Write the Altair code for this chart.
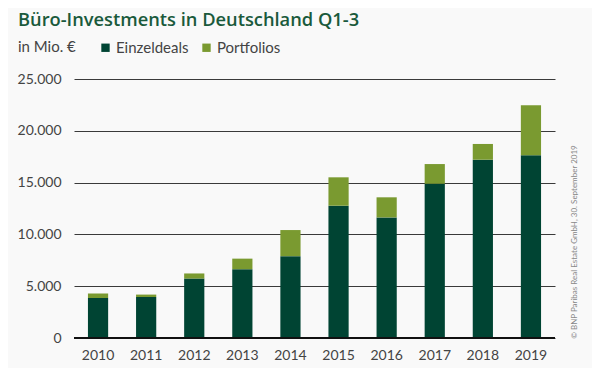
import altair as alt
import pandas as pd

years = ["2010", "2011", "2012", "2013", "2014", "2015", "2016", "2017", "2018", "2019"]
einzeldeals = [3870, 3960, 5740, 6640, 7900, 12770, 11640, 14890, 17210, 17640]
portfolios = [420, 230, 490, 1020, 2520, 2740, 1940, 1900, 1520, 4830]
series = ["Einzeldeals", "Portfolios"]
colors = ["#004433", "#7a9a30"]
y_ticks = [0, 5000, 10000, 15000, 20000, 25000]

title_text = "Büro-Investments in Deutschland Q1-3"
unit_text = "in Mio. €"
source_text = "© BNP Paribas Real Estate GmbH, 30. September 2019"

rows = []
for i, yr in enumerate(years):
    rows.append({"Jahr": yr, "Typ": series[0], "Wert": einzeldeals[i], "ord": 0})
    rows.append({"Jahr": yr, "Typ": series[1], "Wert": portfolios[i], "ord": 1})
df = pd.DataFrame(rows)

FONT = "Lato"
W, H = 481, 259
yscale = alt.Scale(domain=[0, 25000], nice=False, zero=True)

bars = alt.Chart(df).mark_bar().encode(
    x=alt.X("Jahr:N", title=None,
            scale=alt.Scale(paddingInner=0.58, paddingOuter=0.29),
            axis=alt.Axis(labelAngle=0, labelFont=FONT, labelFontSize=14,
                          labelColor="#444444", labelPadding=10, ticks=False,
                          domain=False)),
    y=alt.Y("Wert:Q", title=None, stack="zero", scale=yscale,
            axis=alt.Axis(values=y_ticks, labelFont=FONT, labelFontSize=14,
                          labelColor="#444444", labelPadding=13, ticks=False,
                          domain=False, gridColor="#3a3a3a", gridWidth=1,
                          gridOpacity=1,
                          labelExpr="replace(format(datum.value, ','), ',', '.')")),
    color=alt.Color("Typ:N", scale=alt.Scale(domain=series, range=colors),
                    legend=alt.Legend(orient="none", direction="horizontal",
                                      legendX=24, legendY=-39, title=None,
                                      symbolType="square", symbolSize=70,
                                      symbolStrokeWidth=0,
                                      labelFont=FONT, labelFontSize=15,
                                      labelColor="#444444", labelOffset=3,
                                      columnPadding=10, padding=0)),
    order=alt.Order("ord:Q", sort="ascending"),
)

zero = alt.Chart(pd.DataFrame({"v": [0]})).mark_rule(
    color="#111111", strokeWidth=2).encode(y=alt.Y("v:Q", scale=yscale))

title = alt.Chart(pd.DataFrame({"t": [title_text]})).mark_text(
    align="left", baseline="alphabetic", font="Open Sans", fontSize=18.3,
    fontWeight=600, color="#1a5a3c").encode(
    text="t:N", x=alt.value(-56), y=alt.value(-53))

unit = alt.Chart(pd.DataFrame({"t": [unit_text]})).mark_text(
    align="left", baseline="alphabetic", font=FONT, fontSize=15,
    color="#444444").encode(
    text="t:N", x=alt.value(-56), y=alt.value(-27))

source = alt.Chart(pd.DataFrame({"t": [source_text]})).mark_text(
    align="center", baseline="middle", font=FONT, fontSize=8, angle=270,
    color="#888888").encode(
    text="t:N", x=alt.value(501), y=alt.value(163))

chart = alt.layer(bars, zero, title, unit, source).properties(
    width=W, height=H,
    autosize=alt.AutoSizeParams(type="none"),
    padding={"left": 66, "top": 71, "right": 37, "bottom": 30},
).configure(background="#f9f9f9").configure_view(stroke=None)

chart.save("out.html", embed_options={"renderer": "svg", "actions": False})
